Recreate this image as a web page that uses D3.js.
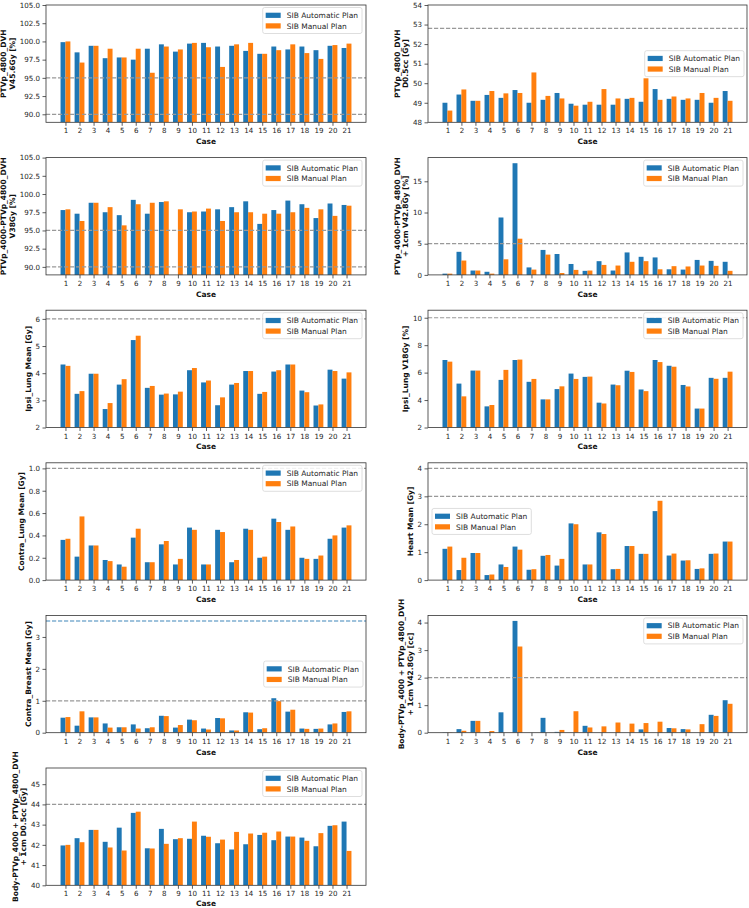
<!DOCTYPE html>
<html><head><meta charset="utf-8">
<script src="https://cdn.jsdelivr.net/npm/d3@7"></script>
<style>body{margin:0;background:#fff}svg{display:block}</style>
</head><body>
<svg id="c" width="749" height="908"></svg>
<script>
// ---------- data ----------
const cases = [1,2,3,4,5,6,7,8,9,10,11,12,13,14,15,16,17,18,19,20,21];
const seriesNames = ["SIB Automatic Plan", "SIB Manual Plan"];

const ptv4800V456Auto   = [99.9,98.5,99.4,97.7,97.8,97.5,99.0,99.6,98.6,99.7,99.8,99.3,99.4,98.7,98.3,99.3,98.9,99.3,98.8,99.4,99.1];
const ptv4800V456Manual = [100.0,97.1,99.4,99.0,97.8,99.0,95.7,99.3,98.9,99.8,99.2,96.5,99.6,99.8,98.3,98.8,99.6,98.4,97.6,99.5,99.7];

const ptv4800D05Auto   = [49.0,49.42,49.1,49.4,49.25,49.65,49.0,49.15,49.5,48.95,48.9,48.9,48.9,49.2,49.05,49.7,49.2,49.15,49.15,49.0,49.6];
const ptv4800D05Manual = [48.6,49.68,49.1,49.6,49.48,49.5,50.55,49.35,49.22,48.85,49.05,49.7,49.22,49.25,50.25,49.15,49.32,49.22,49.5,49.25,49.1];

const ptv4000V38Auto   = [97.8,97.3,98.8,97.5,97.1,99.2,97.3,98.9,null,97.5,97.6,97.9,98.2,99.0,95.9,97.8,99.1,98.6,96.7,98.7,98.5];
const ptv4000V38Manual = [97.9,96.3,98.8,98.2,95.7,98.6,98.8,99.0,97.9,97.6,98.0,96.3,97.5,97.5,97.3,97.3,97.5,98.1,97.9,97.0,98.4];

const ptv4000V428Auto   = [0.2,3.7,0.7,0.5,9.2,17.9,1.2,4.0,3.35,1.75,0.65,2.2,0.7,3.6,2.9,2.8,0.9,0.85,2.4,2.25,2.1];
const ptv4000V428Manual = [0.2,2.3,0.7,0.2,2.5,5.8,0.85,3.25,0.3,0.8,0.7,1.6,1.5,2.1,2.2,0.9,1.4,1.35,1.5,1.45,0.65];

const ipsiMeanAuto   = [4.32,3.24,3.98,2.68,3.58,5.22,3.46,3.21,3.22,4.11,3.66,2.82,3.58,4.08,3.24,4.06,4.32,3.36,2.81,4.13,3.8];
const ipsiMeanManual = [4.27,3.34,3.98,2.9,3.78,5.38,3.53,3.25,3.32,4.19,3.73,3.11,3.64,4.08,3.31,4.11,4.32,3.3,2.85,4.08,4.03];

const ipsiV18Auto   = [6.92,5.2,6.15,3.54,5.47,6.92,5.33,4.05,4.8,5.93,5.69,3.81,5.13,6.14,4.77,6.92,6.5,5.1,3.38,5.62,5.62];
const ipsiV18Manual = [6.8,4.27,6.15,3.64,6.2,6.95,5.54,4.05,5.0,5.54,5.71,3.75,5.08,6.05,4.65,6.77,6.43,4.99,3.38,5.55,6.07];

const contraLungAuto   = [0.36,0.21,0.31,0.18,0.14,0.38,0.16,0.32,0.14,0.47,0.14,0.45,0.16,0.46,0.20,0.55,0.45,0.20,0.19,0.37,0.47];
const contraLungManual = [0.37,0.57,0.31,0.17,0.12,0.46,0.16,0.35,0.19,0.45,0.14,0.43,0.18,0.45,0.21,0.52,0.48,0.19,0.22,0.40,0.49];

const heartAuto   = [1.12,0.36,0.97,0.18,0.56,1.2,0.37,0.87,0.52,2.03,0.56,1.71,0.39,1.22,0.94,2.47,0.88,0.7,0.4,0.94,1.38];
const heartManual = [1.2,0.8,0.97,0.2,0.47,1.09,0.39,0.9,0.76,2.0,0.56,1.65,0.4,1.22,0.94,2.84,0.95,0.71,0.42,0.95,1.38];

const contraBreastAuto   = [0.47,0.22,0.48,0.29,0.17,0.26,0.14,0.53,0.16,0.41,0.13,0.46,0.07,0.64,0.11,1.08,0.66,0.13,0.12,0.26,0.65];
const contraBreastManual = [0.49,0.67,0.48,0.16,0.17,0.13,0.17,0.52,0.24,0.39,0.1,0.45,0.07,0.63,0.14,0.99,0.72,0.12,0.13,0.29,0.67];

const bodyV428Auto   = [0.01,0.13,0.43,0.02,0.74,4.06,0.0,0.54,0.03,0.0,0.25,0.0,0.0,0.0,0.12,0.0,0.17,0.13,0.0,0.65,1.18];
const bodyV428Manual = [0.01,0.07,0.43,0.06,0.0,3.13,0.0,0.0,0.1,0.78,0.19,0.23,0.37,0.33,0.35,0.4,0.16,0.12,0.31,0.61,1.05];

const bodyD05Auto   = [41.97,42.33,42.74,42.15,42.85,43.58,41.83,42.79,42.28,42.3,42.45,42.08,41.77,42.03,42.49,42.23,42.41,42.36,41.93,42.94,43.15];
const bodyD05Manual = [42.0,42.13,42.74,41.87,41.72,43.64,41.82,42.05,42.33,43.15,42.4,42.26,42.64,42.56,42.6,42.66,42.41,42.2,42.58,42.97,41.7];

const ticksPct  = [90.0,92.5,95.0,97.5,100.0,102.5,105.0];
const ticksD05  = [48,49,50,51,52,53,54];
const ticksV428 = [0,5,10,15];
const ticksIpsiMean = [2,3,4,5,6];
const ticksIpsiV18  = [2,4,6,8,10];
const ticksContraLung = [0.0,0.2,0.4,0.6,0.8,1.0];
const ticksHeart = [0,1,2,3,4];
const ticksBreast = [0,1,2,3];
const ticksBodyV = [0,1,2,3,4];
const ticksBodyD = [40,41,42,43,44,45];

const panels = [
  {auto: ptv4800V456Auto, manual: ptv4800V456Manual, dom:[88.9,105], ticks: ticksPct, fmt: ".1f", refs:[95,90], label:["PTVp_4800_DVH","V45.6Gy [%]"], legend:"ur"},
  {auto: ptv4800D05Auto, manual: ptv4800D05Manual, dom:[48,54], ticks: ticksD05, fmt: "d", refs:[52.8], label:["PTVp_4800_DVH","D0.5cc [Gy]"], legend:"cr"},
  {auto: ptv4000V38Auto, manual: ptv4000V38Manual, dom:[88.9,105], ticks: ticksPct, fmt: ".1f", refs:[95,90], label:["PTVp_4000-PTVp_4800_DVH","V38Gy [%]"], legend:"ur"},
  {auto: ptv4000V428Auto, manual: ptv4000V428Manual, dom:[0,18.8], ticks: ticksV428, fmt: "d", refs:[5], label:["PTVp_4000-PTVp_4800_DVH","+ 1cm V42.8Gy [%]"], legend:"ur"},
  {auto: ipsiMeanAuto, manual: ipsiMeanManual, dom:[2,6.32], ticks: ticksIpsiMean, fmt: "d", refs:[6], label:["Ipsi_Lung Mean [Gy]"], legend:"ur"},
  {auto: ipsiV18Auto, manual: ipsiV18Manual, dom:[2,10.55], ticks: ticksIpsiV18, fmt: "d", refs:[10], label:["Ipsi_Lung V18Gy [%]"], legend:"ur"},
  {auto: contraLungAuto, manual: contraLungManual, dom:[0,1.05], ticks: ticksContraLung, fmt: ".1f", refs:[1.0], label:["Contra_Lung Mean [Gy]"], legend:"ur"},
  {auto: heartAuto, manual: heartManual, dom:[0,4.2], ticks: ticksHeart, fmt: "d", refs:[4,3], label:["Heart Mean [Gy]"], legend:"cl"},
  {auto: contraBreastAuto, manual: contraBreastManual, dom:[0,3.675], ticks: ticksBreast, fmt: "d", refs:[3.5,1.0], refColors:["#3f86ba","#999"], label:["Contra_Breast Mean [Gy]"], legend:"cr"},
  {auto: bodyV428Auto, manual: bodyV428Manual, dom:[0,4.26], ticks: ticksBodyV, fmt: "d", refs:[2], label:["Body-PTVp_4000 + PTVp_4800_DVH","+ 1cm V42.8Gy [cc]"], legend:"ur"},
  {auto: bodyD05Auto, manual: bodyD05Manual, dom:[40,45.8], ticks: ticksBodyD, fmt: "d", refs:[44], label:["Body-PTVp_4000 + PTVp_4800_DVH","+ 1cm D0.5cc [Gy]"], legend:"ur"}
];

// ---------- layout ----------
const colX = [46, 428], colW = [320, 319];
const rowTop0 = 5, rowStep = 152.6, plotH = 117.3;
const colors = ["#1f77b4", "#ff7f0e"];
const FONT = "DejaVu Sans";
const tickFS = 7.1, labFS = 7.5, legFS = 7.5;

const svg = d3.select("#c");

panels.forEach((p, i) => {
  const col = i % 2, row = Math.floor(i / 2);
  const X = colX[col], W = colW[col], Y = rowTop0 + row * rowStep, H = plotH;
  const g = svg.append("g").attr("transform", `translate(${X},${Y})`);

  const x = d3.scaleLinear().domain([-0.385, 22.385]).range([0, W]);
  const y = d3.scaleLinear().domain(p.dom).range([H, 0]);
  const bw = 0.35;
  const base = Math.max(0, p.dom[0]);

  const clipId = "clip" + i;
  g.append("clipPath").attr("id", clipId).append("rect").attr("width", W).attr("height", H);
  const plot = g.append("g").attr("clip-path", `url(#${clipId})`);

  [p.auto, p.manual].forEach((vals, s) => {
    plot.selectAll(null).data(cases.map((c, k) => ({c, v: vals[k]})).filter(d => d.v !== null))
      .enter().append("rect")
      .attr("x", d => x(d.c + (s === 0 ? -bw : 0)))
      .attr("width", x(bw) - x(0))
      .attr("y", d => y(Math.max(d.v, base)))
      .attr("height", d => Math.max(0, y(base) - y(Math.max(d.v, base))))
      .attr("fill", colors[s]);
  });

  // reference lines
  p.refs.forEach((r, k) => {
    plot.append("line")
      .attr("x1", 0).attr("x2", W).attr("y1", y(r)).attr("y2", y(r))
      .attr("stroke", p.refColors ? p.refColors[k] : "#999")
      .attr("stroke-width", 1.2).attr("stroke-dasharray", "4.2,1.8");
  });

  // axes
  const xAxis = d3.axisBottom(x).tickValues(cases).tickSize(3.5).tickPadding(2.5).tickFormat(d3.format("d"));
  const yAxis = d3.axisLeft(y).tickValues(p.ticks).tickSize(3.5).tickPadding(2.5).tickFormat(d3.format(p.fmt));
  const gx = g.append("g").attr("transform", `translate(0,${H})`).call(xAxis);
  const gy = g.append("g").call(yAxis);
  [gx, gy].forEach(a => {
    a.select(".domain").remove();
    a.selectAll("line").attr("stroke", "#333").attr("stroke-width", 0.8);
    a.selectAll("text").attr("font-family", FONT).attr("font-size", tickFS).attr("fill", "#262626");
  });

  // frame
  g.append("rect").attr("width", W).attr("height", H).attr("fill", "none")
    .attr("stroke", "#333").attr("stroke-width", 0.8);

  // x label
  g.append("text").attr("x", W / 2).attr("y", Math.min(H + 22, 906.3 - Y)).attr("text-anchor", "middle")
    .attr("font-family", FONT).attr("font-weight", "bold").attr("font-size", labFS).attr("fill", "#111")
    .text("Case");

  // y label: right edge next to tick labels
  let maxW = 0;
  gy.selectAll("text").each(function () { maxW = Math.max(maxW, this.getComputedTextLength()); });
  const tickLeft = -3.5 - 2.5 - maxW;
  const n = p.label.length, lh = 8.6;
  let lastBase = tickLeft - 3 - 1.7;
  const firstTop = X + lastBase - (n - 1) * lh - 5.8;   // screen x of top of first line
  if (firstTop < 0.6) lastBase += 0.6 - firstTop;
  const lab = g.append("text").attr("transform", `translate(0,${H / 2}) rotate(-90)`)
    .attr("text-anchor", "middle").attr("font-family", FONT).attr("font-weight", "bold")
    .attr("font-size", labFS).attr("fill", "#111");
  p.label.forEach((t, k) => {
    const bx = lastBase - (n - 1 - k) * lh;  // baseline x on screen
    lab.append("tspan").attr("x", 0).attr("y", bx).text(t);
  });

  // legend
  const lg = g.append("g");
  const tmp = lg.append("text").attr("font-family", FONT).attr("font-size", legFS).text(seriesNames[0]);
  const tw = tmp.node().getComputedTextLength();
  tmp.remove();
  const bwid = 3 + 15 + 6 + tw + 4, bh = 26;
  let lx, ly;
  if (p.legend === "ur") { lx = W - 4 - bwid; ly = 2.5; }
  else if (p.legend === "cr") { lx = W - 3 - bwid; ly = H / 2 - bh / 2; }
  else { lx = 4; ly = H / 2 - bh / 2; }
  lg.attr("transform", `translate(${lx},${ly})`);
  lg.append("rect").attr("width", bwid).attr("height", bh).attr("rx", 2)
    .attr("fill", "#fff").attr("fill-opacity", 0.85).attr("stroke", "#d6d6d6").attr("stroke-width", 0.8);
  seriesNames.forEach((name, s) => {
    const cy = 7.8 + s * 10.6;
    lg.append("rect").attr("x", 3).attr("y", cy - 2.6).attr("width", 15).attr("height", 5.2).attr("fill", colors[s]);
    lg.append("text").attr("x", 24).attr("y", cy + 2.7).attr("font-family", FONT).attr("font-size", legFS)
      .attr("fill", "#262626").text(name);
  });
});
</script>
</body></html>
